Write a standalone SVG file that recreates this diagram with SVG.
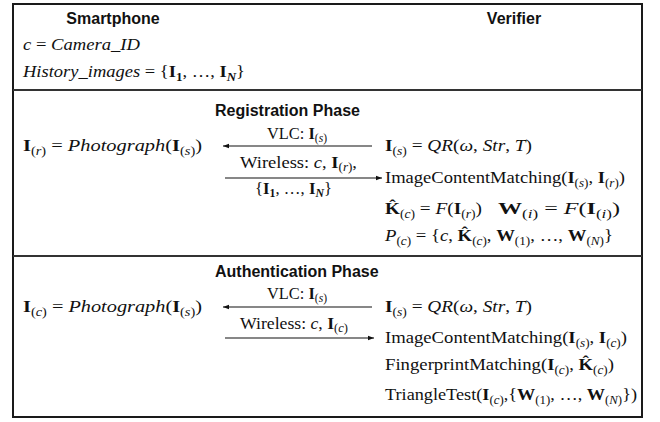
<svg xmlns="http://www.w3.org/2000/svg" width="660" height="422" viewBox="0 0 660 422">
<style>
.m{font-family:"Liberation Serif","DejaVu Serif",serif;font-size:17px;fill:#111}
.h{font-family:"Liberation Sans","Open Sans",sans-serif;font-size:16px;font-weight:bold;fill:#111}
.i{font-style:italic}
.b{font-weight:bold}
.s{font-size:12px}
.frame{fill:none;stroke:#1a1a1a;stroke-width:2}
.div{stroke:#333;stroke-width:2}
.arr{stroke:#111;stroke-width:1.2;fill:none;marker-end:url(#ah)}
</style>
<defs>
<marker id="ah" markerUnits="userSpaceOnUse" markerWidth="7" markerHeight="6" refX="6" refY="3" orient="auto">
<path d="M0,0.8 L6,3 L0,5.2 z" fill="#111"/>
</marker>
</defs>
<rect x="0" y="0" width="660" height="422" fill="#fff"/>
<g id="frame">
<rect class="frame" x="13" y="4" width="629" height="413"/>
<line class="div" x1="13" y1="90" x2="642" y2="90"/>
<line class="div" x1="13" y1="256" x2="642" y2="256"/>
</g>
<g id="header">
<text class="h" x="113" y="24" text-anchor="middle">Smartphone</text>
<text class="h" x="514" y="24" text-anchor="middle">Verifier</text>
<text class="m" x="23" y="50" textLength="117" lengthAdjust="spacingAndGlyphs"><tspan class="i">c</tspan> = <tspan class="i">Camera_ID</tspan></text>
<text class="m" x="23" y="77" textLength="222" lengthAdjust="spacingAndGlyphs"><tspan class="i">History_images</tspan> = {<tspan class="b">I</tspan><tspan class="s b" dy="4">1</tspan><tspan dy="-4">, …, </tspan><tspan class="b">I</tspan><tspan class="s b i" dy="4">N</tspan><tspan dy="-4">}</tspan></text>
</g>
<g id="registration">
<text class="h" x="215" y="116">Registration Phase</text>
<text class="m" x="23" y="151" textLength="179" lengthAdjust="spacingAndGlyphs"><tspan class="b">I</tspan><tspan class="s" dy="4">(<tspan class="i">r</tspan>)</tspan><tspan dy="-4"> = </tspan><tspan class="i">Photograph</tspan>(<tspan class="b">I</tspan><tspan class="s" dy="4">(<tspan class="i">s</tspan>)</tspan><tspan dy="-4">)</tspan></text>
<text class="m" x="267" y="139" textLength="60" lengthAdjust="spacingAndGlyphs">VLC: <tspan class="b">I</tspan><tspan class="s" dy="3">(<tspan class="i">s</tspan>)</tspan></text>
<text class="m" x="240" y="168" textLength="117" lengthAdjust="spacingAndGlyphs">Wireless: <tspan class="i">c</tspan>, <tspan class="b">I</tspan><tspan class="s" dy="3">(<tspan class="i">r</tspan>)</tspan><tspan dy="-3">,</tspan></text>
<text class="m" x="255" y="194" textLength="77" lengthAdjust="spacingAndGlyphs">{<tspan class="b">I</tspan><tspan class="s b" dy="3">1</tspan><tspan dy="-3">, …, </tspan><tspan class="b">I</tspan><tspan class="s b i" dy="3">N</tspan><tspan dy="-3">}</tspan></text>
<text class="m" x="385" y="151" textLength="147" lengthAdjust="spacingAndGlyphs"><tspan class="b">I</tspan><tspan class="s" dy="4">(<tspan class="i">s</tspan>)</tspan><tspan dy="-4"> = </tspan><tspan class="i">QR</tspan>(<tspan class="i">ω</tspan>, <tspan class="i">Str</tspan>, <tspan class="i">T</tspan>)</text>
<text class="m" x="385" y="183" textLength="240" lengthAdjust="spacingAndGlyphs">ImageContentMatching(<tspan class="b">I</tspan><tspan class="s" dy="4">(<tspan class="i">s</tspan>)</tspan><tspan dy="-4">, </tspan><tspan class="b">I</tspan><tspan class="s" dy="4">(<tspan class="i">r</tspan>)</tspan><tspan dy="-4">)</tspan></text>
<text class="m" x="385" y="214" textLength="97" lengthAdjust="spacingAndGlyphs"><tspan class="b">K̂</tspan><tspan class="s" dy="4">(<tspan class="i">c</tspan>)</tspan><tspan dy="-4"> = </tspan><tspan class="i">F</tspan>(<tspan class="b">I</tspan><tspan class="s" dy="4">(<tspan class="i">r</tspan>)</tspan><tspan dy="-4">)</tspan></text>
<text class="m" x="498" y="214" textLength="122" lengthAdjust="spacingAndGlyphs"><tspan class="b">W</tspan><tspan class="s" dy="4">(<tspan class="i">i</tspan>)</tspan><tspan dy="-4"> = </tspan><tspan class="i">F</tspan>(<tspan class="b">I</tspan><tspan class="s" dy="4">(<tspan class="i">i</tspan>)</tspan><tspan dy="-4">)</tspan></text>
<text class="m" x="385" y="241" textLength="228" lengthAdjust="spacingAndGlyphs"><tspan class="i">P</tspan><tspan class="s" dy="4">(<tspan class="i">c</tspan>)</tspan><tspan dy="-4"> = {</tspan><tspan class="i">c</tspan>, <tspan class="b">K̂</tspan><tspan class="s" dy="4">(<tspan class="i">c</tspan>)</tspan><tspan dy="-4">, </tspan><tspan class="b">W</tspan><tspan class="s" dy="4">(1)</tspan><tspan dy="-4">, …, </tspan><tspan class="b">W</tspan><tspan class="s" dy="4">(<tspan class="i">N</tspan>)</tspan><tspan dy="-4">}</tspan></text>
</g>
<g id="authentication">
<text class="h" x="215" y="277">Authentication Phase</text>
<text class="m" x="23" y="312" textLength="179" lengthAdjust="spacingAndGlyphs"><tspan class="b">I</tspan><tspan class="s" dy="4">(<tspan class="i">c</tspan>)</tspan><tspan dy="-4"> = </tspan><tspan class="i">Photograph</tspan>(<tspan class="b">I</tspan><tspan class="s" dy="4">(<tspan class="i">s</tspan>)</tspan><tspan dy="-4">)</tspan></text>
<text class="m" x="267" y="299" textLength="60" lengthAdjust="spacingAndGlyphs">VLC: <tspan class="b">I</tspan><tspan class="s" dy="3">(<tspan class="i">s</tspan>)</tspan></text>
<text class="m" x="240" y="329" textLength="108" lengthAdjust="spacingAndGlyphs">Wireless: <tspan class="i">c</tspan>, <tspan class="b">I</tspan><tspan class="s" dy="3">(<tspan class="i">c</tspan>)</tspan></text>
<text class="m" x="385" y="312" textLength="147" lengthAdjust="spacingAndGlyphs"><tspan class="b">I</tspan><tspan class="s" dy="4">(<tspan class="i">s</tspan>)</tspan><tspan dy="-4"> = </tspan><tspan class="i">QR</tspan>(<tspan class="i">ω</tspan>, <tspan class="i">Str</tspan>, <tspan class="i">T</tspan>)</text>
<text class="m" x="385" y="343" textLength="242" lengthAdjust="spacingAndGlyphs">ImageContentMatching(<tspan class="b">I</tspan><tspan class="s" dy="4">(<tspan class="i">s</tspan>)</tspan><tspan dy="-4">, </tspan><tspan class="b">I</tspan><tspan class="s" dy="4">(<tspan class="i">c</tspan>)</tspan><tspan dy="-4">)</tspan></text>
<text class="m" x="385" y="370" textLength="229" lengthAdjust="spacingAndGlyphs">FingerprintMatching(<tspan class="b">I</tspan><tspan class="s" dy="4">(<tspan class="i">c</tspan>)</tspan><tspan dy="-4">, </tspan><tspan class="b">K̂</tspan><tspan class="s" dy="4">(<tspan class="i">c</tspan>)</tspan><tspan dy="-4">)</tspan></text>
<text class="m" x="385" y="400" textLength="252" lengthAdjust="spacingAndGlyphs">TriangleTest(<tspan class="b">I</tspan><tspan class="s" dy="4">(<tspan class="i">c</tspan>)</tspan><tspan dy="-4">,{</tspan><tspan class="b">W</tspan><tspan class="s" dy="4">(1)</tspan><tspan dy="-4">, …, </tspan><tspan class="b">W</tspan><tspan class="s" dy="4">(<tspan class="i">N</tspan>)</tspan><tspan dy="-4">})</tspan></text>
</g>
<g id="connectors">
<line class="arr" x1="372" y1="146" x2="223" y2="146"/>
<line class="arr" x1="225" y1="178" x2="382" y2="178"/>
<line class="arr" x1="372" y1="307" x2="223" y2="307"/>
<line class="arr" x1="225" y1="338" x2="374" y2="338"/>
</g>
</svg>
